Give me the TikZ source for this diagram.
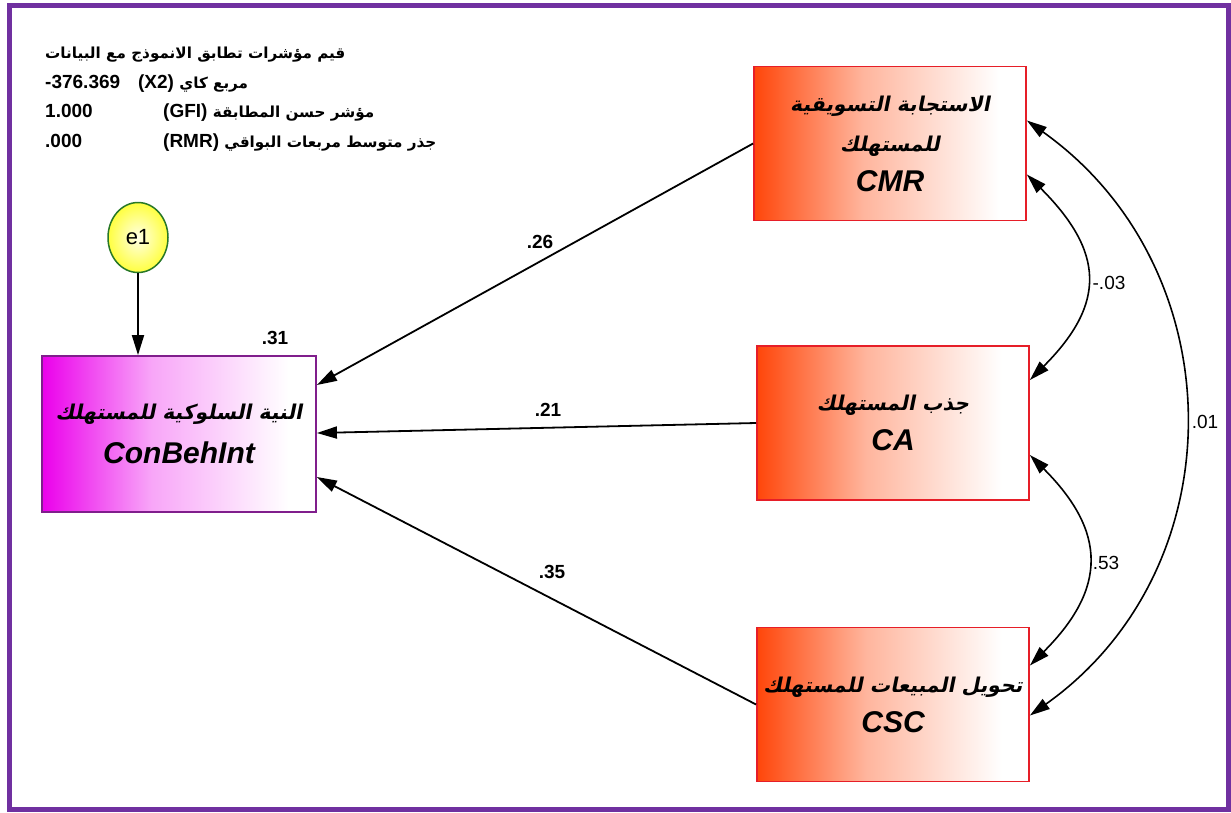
\documentclass[tikz,border=0pt]{standalone}
\usepackage{fontspec}
\setmainfont{Liberation Sans}
\newfontfamily\arabicfont[Script=Arabic,Scale=0.8]{DejaVu Sans}
\newfontfamily\arabicbi[Script=Arabic,Scale=0.68,FakeSlant=0.2]{DejaVu Sans}
\TeXXeTstate=1
\usetikzlibrary{arrows.meta, positioning, calc, shapes.geometric}

\definecolor{framepurple}{RGB}{112,48,160}
\definecolor{boxred}{RGB}{230,30,40}
\definecolor{fadered}{RGB}{255,70,10}
\definecolor{fademag}{RGB}{235,0,235}
\definecolor{boxpurple}{RGB}{128,30,140}
\definecolor{ellgreen}{RGB}{40,120,40}

\pgfdeclarehorizontalshading{redfade}{100bp}{color(0bp)=(fadered); color(25bp)=(fadered); color(45bp)=(fadered!40); color(70bp)=(white); color(100bp)=(white)}
\pgfdeclarehorizontalshading{magfade}{100bp}{color(0bp)=(fademag); color(25bp)=(fademag); color(45bp)=(fademag!35); color(70bp)=(white); color(100bp)=(white)}

\begin{document}
\begin{tikzpicture}[x=1pt, y=-1pt,
        lat/.style={draw=boxred, line width=1.8pt, shade, shading=redfade, minimum width=272pt, minimum height=154pt, align=center, font=\fontsize{30}{40}\selectfont\bfseries\itshape},
        dep/.style={draw=boxpurple, line width=1.8pt, shade, shading=magfade, minimum width=274pt, minimum height=156pt, align=center, font=\fontsize{30}{44}\selectfont\bfseries\itshape},
        ell/.style={ellipse, draw=ellgreen, line width=1.5pt, inner color=yellow!10, outer color=yellow!75, minimum width=60pt, minimum height=70pt, inner sep=0pt, font=\fontsize{22}{24}\selectfont},
        coef/.style={font=\fontsize{19}{22}\selectfont\bfseries},
        corr/.style={font=\fontsize{19}{22}\selectfont},
        fit/.style={anchor=west, inner sep=0pt, font=\fontsize{19}{22}\selectfont\bfseries},
        >={Triangle[length=20pt, width=12pt]}
    ]
        \useasboundingbox (0,0) rectangle (1231,812);
        \fill[white] (0,0) rectangle (1231,812);
        \draw[framepurple, line width=5pt] (9.5,5.5) rectangle (1228.5,809.5);

        % fit indices
        \node[fit] (fit1) at (45,55) {\arabicfont\beginR قيم مؤشرات تطابق الانموذج مع البيانات\endR};
        \node[fit] (fit2) at (45,84) {\makebox[93pt][l]{-376.369}(X2) {\arabicfont\beginR مربع كاي\endR}};
        \node[fit] (fit3) at (45,113) {\makebox[118pt][l]{1.000}(GFI) {\arabicfont\beginR مؤشر حسن المطابقة\endR}};
        \node[fit] (fit4) at (45,143) {\makebox[118pt][l]{.000}(RMR) {\arabicfont\beginR جذر متوسط مربعات البواقي\endR}};

        \node[lat] (cmr) at (890,143.5) {{\arabicbi\upshape\beginR الاستجابة التسويقية\endR}\\{\arabicbi\upshape\beginR للمستهلك\endR}\\CMR};
        \node[lat] (ca)  at (893,423) {{\arabicbi\upshape\beginR جذب المستهلك\endR}\\CA};
        \node[lat] (csc) at (893,704.5) {{\arabicbi\upshape\beginR تحويل المبيعات للمستهلك\endR}\\CSC};

        \node[dep] (cbi) at (179,434) {{\arabicbi\upshape\beginR النية السلوكية للمستهلك\endR}\\ConBehInt};
        \node[ell] (e1) at (138,237.5) {e1};

        \draw[->, line width=1.8pt] (e1) -- (e1 |- cbi.north);
        \draw[->, line width=1.8pt] (cmr.west) -- ([yshift=49pt]cbi.east);
        \draw[->, line width=1.8pt] (ca.west) -- ([yshift=1pt]cbi.east);
        \draw[->, line width=1.8pt] (csc.west) -- ([yshift=-43pt]cbi.east);

        \coordinate (cmrhi) at ([yshift=23pt]cmr.east);
        \coordinate (cmrlo) at ([yshift=-31pt]cmr.east);
        \coordinate (cahi) at ([yshift=43pt]ca.east);
        \coordinate (calo) at ([yshift=-32pt]ca.east);
        \coordinate (cschi) at ([yshift=39pt]csc.east);
        \coordinate (csclo) at ([yshift=-11pt]csc.east);
        \draw[<->, line width=1.6pt] (cmrlo) .. controls ($(cmrlo)+(77,77)$) and ($(cahi)+(77,-77)$) .. (cahi);
        \draw[<->, line width=1.6pt] (calo) .. controls ($(calo)+(77,77)$) and ($(cschi)+(77,-77)$) .. (cschi);
        \draw[<->, line width=1.6pt] (cmrhi) .. controls ($(cmrhi)+(208,148)$) and ($(csclo)+(208,-148)$) .. (csclo);

        \node[coef] (l31) at (275,338) {.31};
        \node[coef] (l26) at (540,242) {.26};
        \node[coef] (l21) at (548,410) {.21};
        \node[coef] (l35) at (552,572) {.35};
        \node[corr] (lcmrca) at (1109,283) {-.03};
        \node[corr] (lcacsc) at (1106,563) {.53};
        \node[corr] (lcmrcsc) at (1205,422) {.01};
    \end{tikzpicture}
\end{document}
